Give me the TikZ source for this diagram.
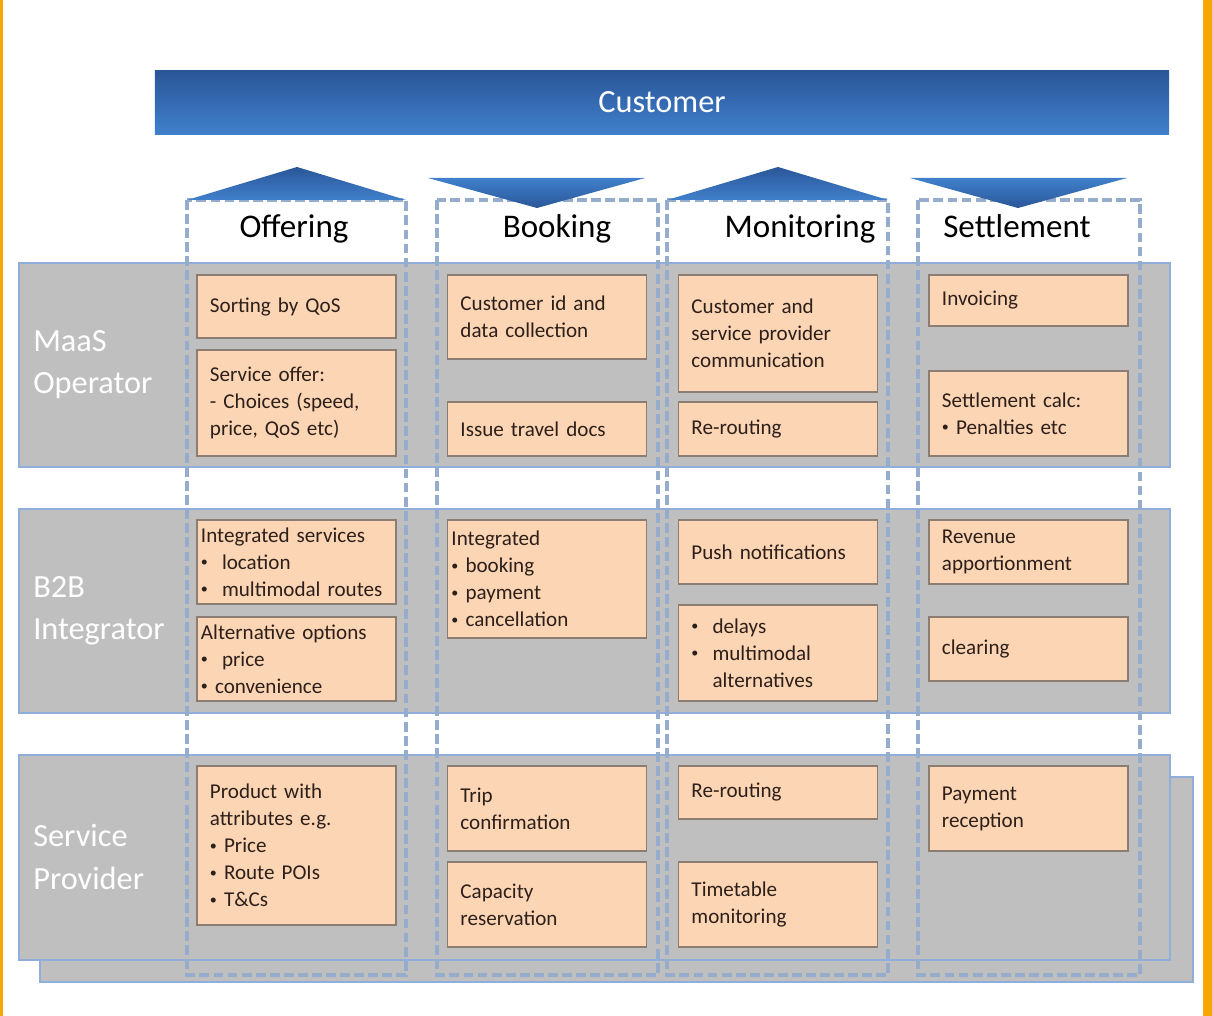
\documentclass[tikz,border=0pt]{standalone}
\usepackage{fontspec}
\setmainfont{Carlito}
\usetikzlibrary{positioning}
\definecolor{FrameOrange}{RGB}{247,166,0}
\definecolor{BarDark}{RGB}{42,86,152}
\definecolor{BarLight}{RGB}{64,128,204}
\definecolor{LaneGray}{RGB}{191,191,191}
\definecolor{LaneBlue}{RGB}{143,174,220}
\definecolor{DashBlue}{RGB}{150,172,205}
\definecolor{CellFill}{RGB}{252,213,181}
\definecolor{CellLine}{RGB}{140,125,115}
\definecolor{CellText}{RGB}{45,32,26}
\newcommand{\dotb}{\raisebox{0.25ex}{\fontsize{10}{10}\selectfont•}}

\begin{document}
\begin{tikzpicture}[x=0.025cm, y=-0.025cm,
        lane/.style={draw=LaneBlue, line width=2pt, fill=LaneGray},
        column/.style={draw=DashBlue, line width=2.2pt, dash pattern=on 7pt off 3pt},
        cell/.style={draw=CellLine, line width=0.8pt, fill=CellFill, rectangle, minimum width=4.975cm, text width=4.325cm, inner xsep=0.325cm, inner ysep=0pt, align=left, text=CellText, font=\fontsize{15}{19.2}\selectfont},
        tight/.style={text width=4.775cm, inner xsep=0.1cm},
        head/.style={font=\fontsize{23.5}{28}\selectfont, anchor=base},
        role/.style={font=\fontsize{23}{30}\selectfont, text=white, align=left, anchor=west, inner sep=0pt}]

        \useasboundingbox (0,0) rectangle (1212,1016);

        % Frame
        \fill[FrameOrange] (0,0) rectangle (3,1016);
        \fill[FrameOrange] (1203,0) rectangle (1212,1016);

        % Customer
        \node[top color=BarDark, bottom color=BarLight, text=white, minimum width=25.35cm, minimum height=1.575cm, inner sep=0pt, font=\fontsize{23}{28}\selectfont] (cust) at (662,102.5) {Customer};

        % Lanes
        \draw[lane] (40,777) rectangle (1193,982);
        \draw[lane] (19,263) rectangle (1170,467);
        \draw[lane] (19,509) rectangle (1170,713);
        \draw[lane] (19,755) rectangle (1170,960);

        \node[role] (maas) at (33,365) {MaaS\\Operator};
        \node[role] (b2b) at (33,611) {B2B\\Integrator};
        \node[role] (sp) at (33,857) {Service\\Provider};

        % Columns
        \draw[column] (187,200) rectangle (406,975);
        \draw[column] (437,200) rectangle (658,975);
        \draw[column] (667,200) rectangle (888,975);
        \draw[column] (918,200) rectangle (1140,975);

        % Arrows
        \shade[top color=BarDark, bottom color=BarLight] (187,200) -- (297,167) -- (406,200) -- cycle;
        \shade[top color=BarLight, bottom color=BarDark] (428,178) -- (645,178) -- (537,208) -- cycle;
        \shade[top color=BarDark, bottom color=BarLight] (667,200) -- (778,167) -- (888,200) -- cycle;
        \shade[top color=BarLight, bottom color=BarDark] (910,178) -- (1127,178) -- (1018,208) -- cycle;

        \node[head] (hOff) at (294,238) {Offering};
        \node[head] (hBook) at (557,238) {Booking};
        \node[head] (hMon) at (800,238) {Monitoring};
        \node[head] (hSet) at (1017,238) {Settlement};

        % Offering
        \node[cell, minimum height=1.575cm] (oSort) at (296.5,306.5) {Sorting by QoS};
        \node[cell, minimum height=2.65cm] (oOffer) at (296.5,403) {Service offer:\\- Choices (speed,\\price, QoS etc)};
        \node[cell, tight, minimum height=2.1cm] (oInteg) at (296.5,562) {Integrated services\\\dotb\ \ location\\\dotb\ \ multimodal routes};
        \node[cell, tight, minimum height=2.1cm] (oAlt) at (296.5,659) {Alternative options\\\dotb\ \ price\\\dotb\ convenience};
        \node[cell, minimum height=3.975cm] (oProd) at (296.5,845.5) {Product with\\attributes e.g.\\\dotb\ Price\\\dotb\ Route POIs\\\dotb\ T\&Cs};

        % Booking
        \node[cell, minimum height=2.1cm] (bCust) at (547,317) {Customer id and\\data collection};
        \node[cell, minimum height=1.35cm] (bIssue) at (547,429) {Issue travel docs};
        \node[cell, tight, minimum height=2.95cm] (bInteg) at (547,579) {Integrated\\\dotb\ booking\\\dotb\ payment\\\dotb\ cancellation};
        \node[cell, minimum height=2.125cm] (bTrip) at (547,808.5) {Trip\\confirmation};
        \node[cell, minimum height=2.125cm] (bCap) at (547,904.5) {Capacity\\reservation};

        % Monitoring
        \node[cell, minimum height=2.925cm] (mComm) at (778,333.5) {Customer and\\service provider\\communication};
        \node[cell, minimum height=1.35cm] (mRe) at (778,429) {Re-routing};
        \node[cell, minimum height=1.6cm] (mPush) at (778,552) {Push notifications};
        \node[cell, minimum height=2.4cm] (mDelay) at (778,653) {\dotb\ \ delays\\\dotb\ \ multimodal\\\phantom{\dotb\ \ }alternatives};
        \node[cell, minimum height=1.325cm] (mRe2) at (778,792.5) {Re-routing};
        \node[cell, minimum height=2.125cm] (mTime) at (778,904.5) {Timetable\\monitoring};

        % Settlement
        \node[cell, minimum height=1.275cm] (sInv) at (1028.5,300.5) {Invoicing};
        \node[cell, minimum height=2.125cm] (sCalc) at (1028.5,413.5) {Settlement calc:\\\dotb\ Penalties etc};
        \node[cell, minimum height=1.6cm] (sRev) at (1028.5,552) {Revenue\\apportionment};
        \node[cell, minimum height=1.6cm] (sClear) at (1028.5,649) {clearing};
        \node[cell, minimum height=2.125cm] (sPay) at (1028.5,808.5) {Payment\\reception};

    \end{tikzpicture}
\end{document}
